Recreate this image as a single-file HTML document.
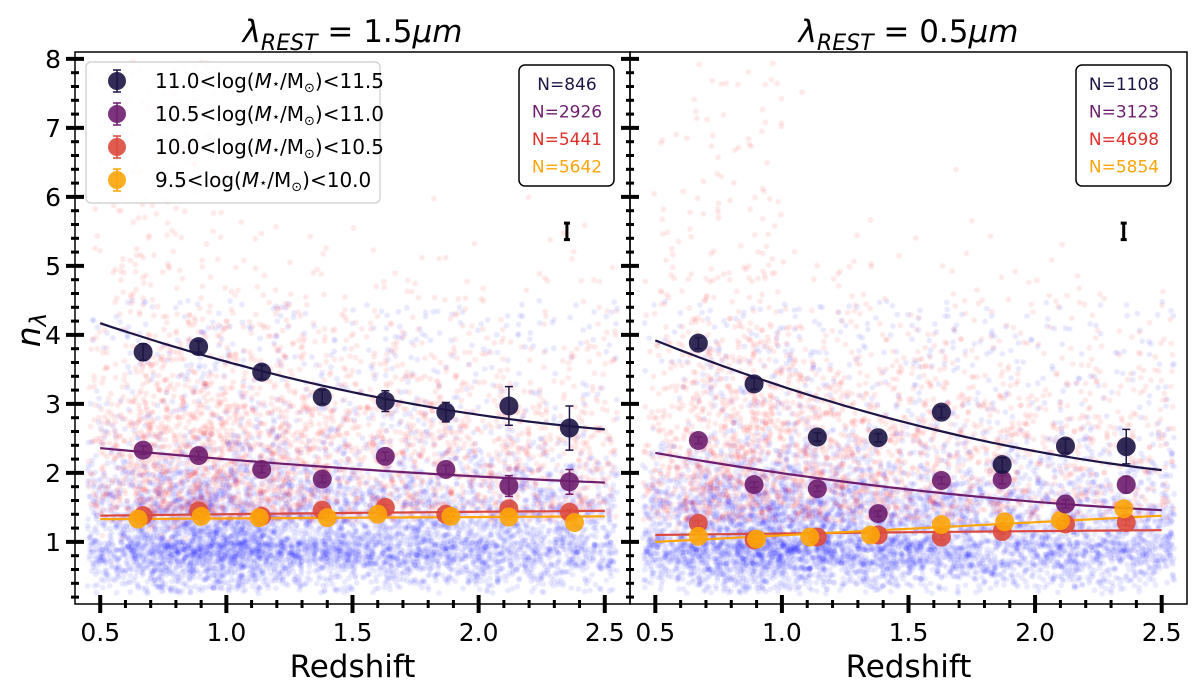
<!DOCTYPE html>
<html><head><meta charset="utf-8">
<style>
html,body{margin:0;padding:0;background:#fff;}
#wrap{position:relative;width:1200px;height:691px;overflow:hidden;font-family:"DejaVu Sans","Liberation Sans",sans-serif;}
canvas,svg{position:absolute;left:0;top:0;}
</style></head>
<body>
<div id="wrap">
<canvas id="cloud" width="1200" height="691"></canvas>
<svg id="chart" width="1200" height="691" xmlns="http://www.w3.org/2000/svg"></svg>
</div>
<script>
// ---------- data ----------
const binZ = [0.67,0.89,1.14,1.38,1.63,1.87,2.12,2.36];
const leftDark   = [3.75,3.83,3.46,3.10,3.04,2.88,2.97,2.65];
const leftDarkErr= [0.12,0.08,0.10,0.10,0.15,0.14,0.28,0.32];
const leftPurple = [2.33,2.25,2.05,1.91,2.24,2.05,1.81,1.87];
const leftPurpleErr=[0.06,0.06,0.05,0.05,0.06,0.06,0.15,0.18];
const leftRed    = [1.38,1.45,1.37,1.46,1.50,1.40,1.48,1.43];
const leftOrange = [1.33,1.37,1.35,1.35,1.40,1.37,1.36,1.28];
const leftOrangeZ= [0.65,0.90,1.13,1.40,1.60,1.89,2.12,2.38];
const rightDark   = [3.88,3.29,2.52,2.51,2.88,2.12,2.39,2.38];
const rightDarkErr= [0.08,0.08,0.06,0.06,0.08,0.10,0.10,0.25];
const rightPurple = [2.47,1.83,1.77,1.41,1.89,1.90,1.55,1.83];
const rightPurpleErr=[0.05,0.04,0.04,0.04,0.05,0.06,0.06,0.12];
const rightRed    = [1.27,1.03,1.07,1.10,1.07,1.15,1.26,1.28];
const rightOrange = [1.08,1.04,1.07,1.10,1.25,1.29,1.31,1.48];
const rightOrangeZ= [0.67,0.90,1.11,1.35,1.63,1.88,2.10,2.35];
const fitZ = [0.5,1.0,1.5,2.0,2.5];
const leftFitDark   = [4.17,3.60,3.17,2.86,2.63];
const leftFitPurple = [2.36,2.21,2.06,1.95,1.86];
const leftFitRed    = [1.38,1.40,1.42,1.44,1.45];
const leftFitOrange = [1.33,1.34,1.35,1.36,1.37];
const rightFitDark   = [3.92,3.22,2.72,2.35,2.04];
const rightFitPurple = [2.29,1.99,1.76,1.59,1.46];
const rightFitRed    = [1.10,1.12,1.14,1.16,1.17];
const rightFitOrange = [1.00,1.09,1.19,1.29,1.38];
const xTicks = [0.5,1.0,1.5,2.0,2.5];
const xTickLabels = ["0.5","1.0","1.5","2.0","2.5"];
const yTicks = [1,2,3,4,5,6,7,8];
const legendLower = ["11.0","10.5","10.0","9.5"];
const legendUpper = ["11.5","11.0","10.5","10.0"];
const leftCounts = ["N=846","N=2926","N=5441","N=5642"];
const rightCounts = ["N=1108","N=3123","N=4698","N=5854"];
const colors = ["#1d1545","#6e1e6e","#db4a3e","#fca50a"];
const textColors = ["#1d1545","#6e1e6e","#e0302a","#fca50a"];
const cloudZ = [0.5,0.7,0.9,1.1,1.3,1.5,1.7,1.9,2.1,2.3,2.5];
const blueDensity = [0.6,1.0,1.3,1.1,1.0,0.8,0.8,0.7,0.7,0.6,0.5];
const redDensity  = [0.6,1.3,1.3,0.9,0.8,0.6,0.6,0.5,0.5,0.4,0.4];

// ---------- axes ----------
const panels = [{x0:75,x1:630},{x0:630,x1:1187}];
const Y0=52,Y1=604, ymin=0.1, ymax=8.1, xmin=0.4, xmax=2.6;
function sx(p,z){return p.x0+(z-xmin)/(xmax-xmin)*(p.x1-p.x0);}
function sy(v){return Y1-(v-ymin)/(ymax-ymin)*(Y1-Y0);}

// ---------- cloud ----------
const ctx=document.getElementById('cloud').getContext('2d');
let seed=12345;function rnd(){seed=(seed*1664525+1013904223)>>>0;return seed/4294967296;}
function gauss(){return Math.sqrt(-2*Math.log(rnd()+1e-9))*Math.cos(2*Math.PI*rnd());}
function dens(arr,z){for(let i=0;i<cloudZ.length-1;i++){if(z<=cloudZ[i+1]){const t=(z-cloudZ[i])/(cloudZ[i+1]-cloudZ[i]);return arr[i]*(1-t)+arr[i+1]*t;}}return arr[arr.length-1];}
function cloud(p,color,dArr,n,ymode){
  ctx.fillStyle=color;
  let c=0;
  while(c<n){
    const z=0.45+rnd()*2.1;
    if(rnd()*1.4>dens(dArr,z))continue;
    let v;
    if(ymode==='blue'){v=1.0+Math.abs(gauss())*0.5*(rnd()<0.5?-0.7:1.3);if(rnd()<0.12)v=1+rnd()*3.5;}
    else{v=1.3+Math.abs(gauss())*1.5; if(z<1.0&&rnd()<0.25)v=1+rnd()*7;}
    if(v<0.25||v>8.05)continue;
    ctx.beginPath();ctx.arc(sx(p,z),sy(v),2.8,0,Math.PI*2);ctx.fill();
    c++;
  }
}
panels.forEach((p,i)=>{
  cloud(p,'rgba(0,0,255,0.09)',blueDensity,5600,'blue');
  cloud(p,'rgba(255,0,0,0.09)',redDensity,i?2300:2700,'red');
});

// ---------- svg ----------
const NS="http://www.w3.org/2000/svg";
const svg=document.getElementById('chart');
function el(tag,attrs,parent){const e=document.createElementNS(NS,tag);for(const k in attrs)e.setAttribute(k,attrs[k]);(parent||svg).appendChild(e);return e;}
function ts(parent,text,attrs){const t=el('tspan',attrs||{},parent);t.textContent=text;return t;}

function smoothPath(p,zs,vs){
  // quadratic through first, middle and last fit samples
  const n=zs.length, m=Math.floor(n/2);
  const x0=zs[0],x1=zs[m],x2=zs[n-1],y0=vs[0],y1=vs[m],y2=vs[n-1];
  function q(z){return y0*(z-x1)*(z-x2)/((x0-x1)*(x0-x2))+y1*(z-x0)*(z-x2)/((x1-x0)*(x1-x2))+y2*(z-x0)*(z-x1)/((x2-x0)*(x2-x1));}
  let d='';
  for(let i=0;i<=80;i++){
    const z=x0+(x2-x0)*i/80;
    d+=(i?'L':'M')+sx(p,z).toFixed(1)+','+sy(q(z)).toFixed(1);
  }
  return d;
}

const panelData=[
 {fits:[leftFitDark,leftFitPurple,leftFitRed,leftFitOrange],
  pts:[[binZ,leftDark,leftDarkErr],[binZ,leftPurple,leftPurpleErr],[binZ,leftRed,null],[leftOrangeZ,leftOrange,null]],
  counts:leftCounts,title:"1.5"},
 {fits:[rightFitDark,rightFitPurple,rightFitRed,rightFitOrange],
  pts:[[binZ,rightDark,rightDarkErr],[binZ,rightPurple,rightPurpleErr],[binZ,rightRed,null],[rightOrangeZ,rightOrange,null]],
  counts:rightCounts,title:"0.5"}
];

panels.forEach((p,pi)=>{
  const g=el('g',{});
  
  
  const D=panelData[pi];
  D.fits.forEach((f,si)=>{
    const path=el('path',{d:smoothPath(p,fitZ,f),fill:'none',stroke:colors[si],'stroke-width':2.2,'stroke-linejoin':'round'},g);
    
    
  });
  [2,3,1,0].forEach(si=>{
    const [zs,vs,es]=D.pts[si];
    zs.forEach((z,k)=>{
      const cx=sx(p,z),cy=sy(vs[k]);
      const e=es?es[k]:0.04;
      const eb=el('path',{d:`M${cx},${sy(vs[k]+e)}V${sy(vs[k]-e)}M${cx-4},${sy(vs[k]+e)}h8M${cx-4},${sy(vs[k]-e)}h8`,stroke:colors[si],'stroke-width':1.5,fill:'none'},g);
      
      
      const c=el('circle',{cx:cx,cy:cy,r:9.5,fill:colors[si],'fill-opacity':0.9},g);
      
      
    });
  });
  const te=el('path',{d:`M${sx(p,2.35)},${sy(5.62)}V${sy(5.38)}M${sx(p,2.35)-3},${sy(5.62)}h6M${sx(p,2.35)-3},${sy(5.38)}h6`,stroke:'#000','stroke-width':3,fill:'none'},g);
  
  
  const fr=el('rect',{x:p.x0,y:Y0,width:p.x1-p.x0,height:Y1-Y0,fill:'none',stroke:'#000','stroke-width':1.5},g);
  
  
  for(let z=0.4;z<=2.61;z+=0.1){
    const zz=Math.round(z*10)/10;
    const major=xTicks.some(t=>Math.abs(t-zz)<1e-6);
    const X=sx(p,zz);
    if(X<=p.x0+1||X>=p.x1-1)continue;
    el('line',{x1:X,x2:X,y1:Y1-(major?9:4),y2:Y1+(major?9:4),stroke:'#000','stroke-width':major?4:3},g);
  }
  xTicks.forEach((t,k)=>{
    const tx=el('text',{x:sx(p,t),y:Y1+37,'font-size':25,'text-anchor':'middle'},g);
    tx.textContent=xTickLabels[k];
    
    
  });
  const xl=el('text',{x:(p.x0+p.x1)/2,y:677,'font-size':31,'text-anchor':'middle'},g);
  xl.textContent='Redshift';
  
  
  for(let v=0.2;v<=8.05;v+=0.2){
    const vv=Math.round(v*10)/10;
    const major=Math.abs(vv-Math.round(vv))<1e-6;
    const Yp=sy(vv);
    el('line',{x1:p.x0-(major?9:4),x2:p.x0+(major?9:4),y1:Yp,y2:Yp,stroke:'#000','stroke-width':major?4:3},g);
  }
  const tt=el('text',{x:(p.x0+p.x1)/2,y:42,'font-size':31,'text-anchor':'middle'},g);
  
  
  ts(tt,'λ',{'font-style':'italic'});
  ts(tt,'REST',{'font-style':'italic','font-size':22,dy:8});
  ts(tt,' = '+D.title,{dy:-8});
  ts(tt,'μm',{'font-style':'italic'});
  const by=65;
  const cb=el('rect',{x:p.x1-111,y:by,width:95,height:121,rx:6,fill:'#fff',stroke:'#000','stroke-width':1.5},g);
  
  
  D.counts.forEach((c,k)=>{
    const t=el('text',{x:p.x1-63,y:by+25+k*27.5,'font-size':17,'text-anchor':'middle',fill:textColors[k]},g);
    t.textContent=c;
    
    
  });
});
yTicks.forEach(v=>{
  const t=el('text',{x:61,y:sy(v)+9,'font-size':25,'text-anchor':'end'});
  t.textContent=String(v);
  
  
});
const yl=el('text',{x:0,y:0,'font-size':33,'text-anchor':'middle',transform:'translate(40,330) rotate(-90)'});
ts(yl,'n',{'font-style':'italic'});
ts(yl,'λ',{'font-style':'italic','font-size':23,dy:6});


const lg=el('g',{});


el('rect',{x:86,y:62,width:294,height:141,rx:5,fill:'#fff','fill-opacity':0.85,stroke:'#ccc','stroke-width':1.2},lg);
legendLower.forEach((l,k)=>{
  const cy=81+k*33;
  el('path',{d:`M117,${cy-11}V${cy+11}M113,${cy-11}h8M113,${cy+11}h8`,stroke:colors[k],'stroke-width':1.5},lg);
  const c=el('circle',{cx:117,cy:cy,r:9,fill:colors[k],'fill-opacity':0.9},lg);
  
  
  const t=el('text',{x:155,y:cy+7,'font-size':20},lg);
  ts(t,l+'<log(');
  ts(t,'M',{'font-style':'italic'});
  ts(t,'⋆',{'font-size':13});
  ts(t,'/M');
  ts(t,'⊙',{'font-size':13,dy:4});
  ts(t,')<'+legendUpper[k],{dy:-4});
  
  
});
</script>
</body></html>
